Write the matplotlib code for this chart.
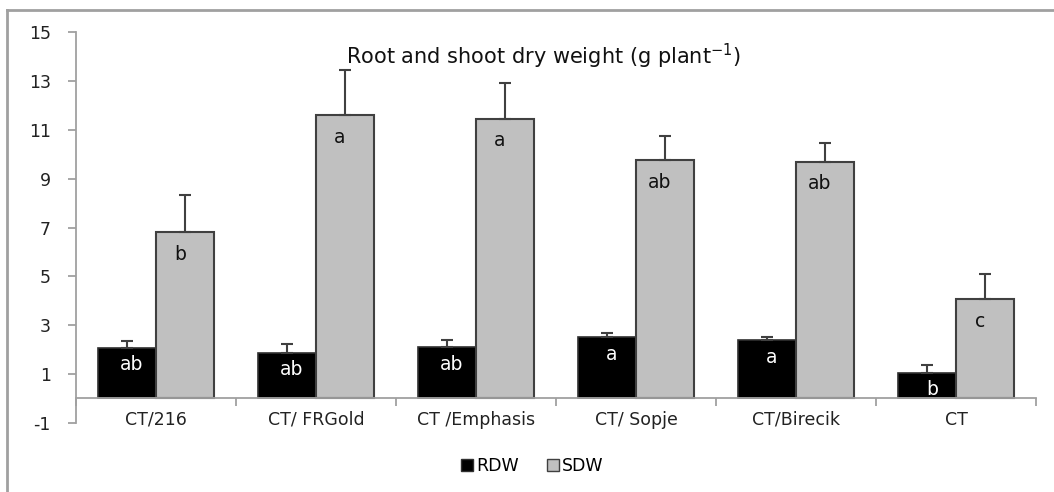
import matplotlib
matplotlib.use("Agg")
import matplotlib.pyplot as plt
import numpy as np
from matplotlib.lines import Line2D
from matplotlib.patches import Patch

plt.rcParams["font.family"] = ["DejaVu Sans"]
plt.rcParams["axes.unicode_minus"] = False

# data
categories = ["CT/216", "CT/ FRGold", "CT /Emphasis", "CT/ Sopje", "CT/Birecik", "CT"]
rdw = [2.07, 1.86, 2.10, 2.50, 2.38, 1.05]
rdw_err = [0.29, 0.36, 0.30, 0.19, 0.14, 0.30]
sdw = [6.80, 11.60, 11.45, 9.76, 9.70, 4.06]
sdw_err = [1.53, 1.86, 1.48, 0.99, 0.75, 1.03]
rdw_letters = ["ab", "ab", "ab", "a", "a", "b"]
sdw_letters = ["b", "a", "a", "ab", "ab", "c"]
yticks = [-1, 1, 3, 5, 7, 9, 11, 13, 15]

fig = plt.figure(figsize=(10.54, 4.92), dpi=100)
ax = fig.add_axes([0.072, 0.141, 0.911, 0.793])

x = np.arange(len(categories))
w = 0.36
ax.bar(x - w / 2, rdw, w, color="black", edgecolor="#303030", linewidth=1.2, zorder=2)
ax.bar(x + w / 2, sdw, w, color="#c0c0c0", edgecolor="#404040", linewidth=1.5, zorder=2)
ax.errorbar(x - w / 2, rdw, yerr=[np.zeros(len(rdw)), rdw_err], fmt="none",
            ecolor="#404040", elinewidth=1.5, capsize=4, capthick=1.5, zorder=3)
ax.errorbar(x + w / 2, sdw, yerr=[np.zeros(len(sdw)), sdw_err], fmt="none",
            ecolor="#404040", elinewidth=1.5, capsize=4, capthick=1.5, zorder=3)

for i in range(len(categories)):
    ax.text(x[i] - w / 2 + 0.03, rdw[i] - 0.7, rdw_letters[i], color="white",
            ha="center", va="center", fontsize=13.5, zorder=4)
    ax.text(x[i] + w / 2 - 0.03, sdw[i] - 0.9, sdw_letters[i], color="#111111",
            ha="center", va="center", fontsize=13.5, zorder=4)

ax.set_xlim(-0.5, len(categories) - 0.5)
ax.set_ylim(-1, 15)
ax.set_yticks(yticks)
ax.spines["bottom"].set_position(("data", 0))
ax.spines["top"].set_visible(False)
ax.spines["right"].set_visible(False)
for s in ["left", "bottom"]:
    ax.spines[s].set_color("#a0a0a0")
    ax.spines[s].set_linewidth(1.3)

ax.set_xticks(x, categories)
ax.set_xticks(np.arange(-0.5, len(categories)), minor=True)
ax.tick_params(axis="x", which="major", length=0, pad=9, labelsize=12.5, labelcolor="#222222")
ax.tick_params(axis="x", which="minor", length=6, width=1.3, color="#a0a0a0")
ax.tick_params(axis="y", length=6, width=1.3, color="#a0a0a0", labelsize=12.5,
               labelcolor="#222222", pad=12)

ax.text(0.487, 0.975, "Root and shoot dry weight (g plant$^{-1}$)", transform=ax.transAxes,
        ha="center", va="top", fontsize=15, color="#111111")

handles = [Patch(facecolor="black", edgecolor="#303030", label="RDW"),
           Patch(facecolor="#c0c0c0", edgecolor="#404040", label="SDW")]
fig.legend(handles=handles, loc="center", bbox_to_anchor=(0.505, 0.052), ncol=2,
           frameon=False, fontsize=12.5, handlelength=0.7, handleheight=0.7,
           handletextpad=0.2, columnspacing=1.6)

# outer chart frame (top and left edges visible)
fig.add_artist(Line2D([7 / 1054, 1], [1 - 10 / 492, 1 - 10 / 492], transform=fig.transFigure,
                      color="#a0a0a0", linewidth=2))
fig.add_artist(Line2D([7 / 1054, 7 / 1054], [0, 1 - 10 / 492], transform=fig.transFigure,
                      color="#a0a0a0", linewidth=2))

fig.savefig("out.png", dpi=100)
